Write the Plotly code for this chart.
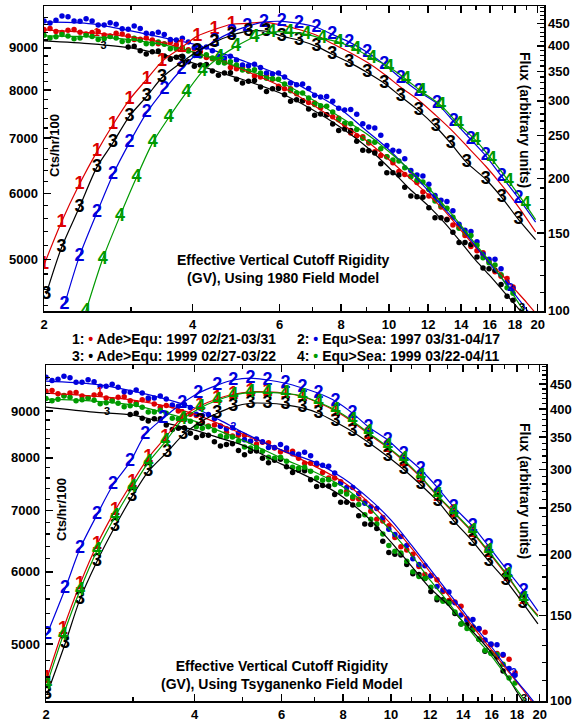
import math
import plotly.graph_objects as go

FONT = "Liberation Sans, Arial, Helvetica, sans-serif"
RED, BLUE, BLACK, GREEN = "#dd0000", "#0000dd", "#000000", "#009a00"

# ---------------- axes / ticks ----------------
X_TICKS = [2, 4, 6, 8, 10, 12, 14, 16, 18, 20]
X_MINOR = [3, 5, 7, 9, 11, 13, 15, 17, 19]
CTS_TICKS = [5000, 6000, 7000, 8000, 9000]
FLUX_TICKS = [100, 150, 200, 250, 300, 350, 400, 450]

# ---------------- count-rate data points (Cts/hr/100) ----------------
X_DOTS = [2.000, 2.115, 2.237, 2.366, 2.503, 2.648, 2.800, 2.962, 3.133, 3.314,
          3.505, 3.707, 3.921, 4.147, 4.387, 4.640, 4.908, 5.191, 5.490, 5.807,
          6.142, 6.497, 6.872, 7.268, 7.688, 8.131, 8.601, 9.097, 9.622, 10.18,
          10.76, 11.39, 12.04, 12.74, 13.47, 14.25, 15.07, 15.94, 16.86, 17.83]
X_DOTS_B = [2.057, 2.175, 2.301, 2.434, 2.575, 2.723, 2.880, 3.046, 3.222, 3.408,
            3.605, 3.813, 4.032, 4.265, 4.512, 4.772, 5.048, 5.338, 5.646, 5.972,
            6.317, 6.682, 7.067, 7.475, 7.906, 8.363, 8.846, 9.356, 9.897, 10.47,
            11.07, 11.71, 12.39, 13.10, 13.86, 14.65, 15.50, 16.39, 17.34]

TOP_DOTS_1 = [9470, 9420, 9450, 9400, 9390, 9330, 9370, 9300, 9220, 9200,
              9100, 9080, 8950, 8900, 8730, 8660, 8490, 8440, 8300, 8250,
              8030, 7920, 7730, 7620, 7430, 7270, 7050, 6910, 6670, 6540,
              6330, 6190, 5960, 5780, 5500, 5340, 5120, 4970, 4770, 4630]
TOP_DOTS_1B = [9500, 9390, 9470, 9350, 9420, 9300, 9350, 9210, 9250, 9100,
               9140, 8960, 8980, 8760, 8740, 8520, 8520, 8320, 8330, 8090,
               8030, 7770, 7720, 7470, 7400, 7100, 7030, 6740, 6650, 6380,
               6300, 6030, 5920, 5590, 5470, 5180, 5090, 4830, 4740]
TOP_DOTS_2 = [9700, 9720, 9810, 9690, 9700, 9590, 9610, 9480, 9500, 9360,
              9340, 9200, 9150, 9000, 8930, 8750, 8700, 8560, 8520, 8370,
              8300, 8120, 8040, 7850, 7760, 7570, 7480, 7220, 7060, 6770,
              6610, 6320, 6160, 5890, 5720, 5420, 5250, 5000, 4870, 4610]
TOP_DOTS_2B = [9640, 9830, 9700, 9760, 9590, 9650, 9490, 9560, 9370, 9400,
               9210, 9240, 9010, 9020, 8790, 8790, 8580, 8600, 8390, 8390,
               8160, 8140, 7890, 7860, 7610, 7580, 7290, 7200, 6860, 6750,
               6400, 6300, 5970, 5870, 5510, 5400, 5070, 5000, 4690]
TOP_DOTS_3 = [9020, 8930, 8900, 8800, 8770, 8660, 8580, 8440, 8390, 8250,
              8200, 8070, 8030, 7900, 7790, 7590, 7490, 7280, 7180, 6940,
              6760, 6520, 6360, 6110, 5950, 5770, 5610, 5390, 5240, 5030,
              4870, 4660, 4460]
TOP_DOTS_3B = [9040, 8850, 8920, 8720, 8790, 8550, 8590, 8340, 8400, 8160,
               8220, 7970, 8040, 7760, 7770, 7460, 7470, 7150, 7150, 6770,
               6720, 6360, 6320, 5960, 5940, 5610, 5580, 5240, 5210, 4880,
               4850, 4510]
TOP_DOTS_4 = [9320, 9280, 9300, 9250, 9290, 9230, 9250, 9180, 9190, 9100,
              9090, 8980, 8920, 8800, 8750, 8630, 8580, 8440, 8390, 8260,
              8140, 7940, 7830, 7660, 7530, 7300, 7170, 6930, 6800, 6590,
              6450, 6230, 6070, 5800, 5620, 5380, 5200, 4950, 4790, 4550]
TOP_DOTS_4B = [9250, 9340, 9230, 9330, 9210, 9290, 9160, 9240, 9100, 9150,
               8980, 9000, 8810, 8830, 8640, 8660, 8460, 8470, 8270, 8250,
               7990, 7940, 7690, 7650, 7370, 7290, 7000, 6920, 6650, 6570,
               6290, 6200, 5880, 5760, 5450, 5340, 5020, 4920, 4620]

BOT_DOTS_1 = [9460, 9400, 9420, 9350, 9370, 9300, 9320, 9240, 9260, 9160,
              9130, 9000, 8930, 8750, 8690, 8530, 8470, 8340, 8320, 8200,
              8150, 7990, 7890, 7710, 7600, 7350, 7210, 6990, 6820, 6540,
              6340, 6080, 5940, 5710, 5560, 5330, 5190, 4990, 4860, 4650]
BOT_DOTS_1B = [9480, 9360, 9430, 9310, 9390, 9260, 9330, 9190, 9260, 9090,
               9120, 8910, 8900, 8670, 8670, 8450, 8460, 8280, 8310, 8120,
               8130, 7890, 7860, 7600, 7530, 7220, 7160, 6850, 6740, 6390,
               6270, 5960, 5880, 5580, 5500, 5210, 5150, 4880, 4810]
BOT_DOTS_2 = [9800, 9750, 9790, 9680, 9690, 9580, 9560, 9440, 9420, 9300,
              9280, 9110, 9080, 8900, 8830, 8610, 8520, 8340, 8330, 8210,
              8200, 8070, 8040, 7850, 7700, 7420, 7310, 7070, 6880, 6590,
              6410, 6110, 5940, 5730, 5550, 5310, 5200, 5000, 4870, 4620]
BOT_DOTS_2B = [9720, 9830, 9680, 9740, 9580, 9630, 9450, 9490, 9300, 9350,
               9140, 9150, 8930, 8920, 8660, 8630, 8370, 8390, 8210, 8270,
               8080, 8110, 7890, 7830, 7500, 7420, 7130, 7040, 6680, 6560,
               6200, 6090, 5780, 5700, 5380, 5320, 5050, 4990, 4700]
BOT_DOTS_3 = [8920, 8840, 8830, 8690, 8620, 8510, 8460, 8330, 8270, 8150,
              8130, 7990, 7950, 7820, 7750, 7570, 7460, 7290, 7150, 6910,
              6760, 6480, 6270, 6110, 5960, 5710, 5590, 5400, 5250, 5060,
              4890, 4670]
BOT_DOTS_3B = [8950, 8780, 8830, 8590, 8630, 8420, 8470, 8240, 8290, 8060,
               8140, 7900, 7970, 7710, 7740, 7440, 7450, 7150, 7100, 6770,
               6690, 6300, 6260, 5970, 5900, 5590, 5560, 5260, 5220, 4910,
               4840]
BOT_DOTS_4 = [9290, 9270, 9320, 9260, 9250, 9190, 9180, 9120, 9090, 8980,
              8950, 8820, 8770, 8620, 8570, 8430, 8340, 8200, 8130, 7990,
              7930, 7790, 7730, 7560, 7480, 7300, 7110, 6850, 6600, 6320,
              6160, 5930, 5770, 5570, 5420, 5200, 5060, 4880, 4750, 4530]
BOT_DOTS_4B = [9240, 9350, 9240, 9300, 9170, 9230, 9100, 9150, 8980, 9020,
               8840, 8850, 8650, 8650, 8450, 8430, 8220, 8210, 8010, 8010,
               7810, 7810, 7600, 7570, 7340, 7250, 6930, 6770, 6410, 6290,
               6000, 5900, 5620, 5540, 5260, 5180, 4920, 4870, 4590]

# ---------------- count-rate fitted curves ----------------
X_FIT = [2, 2.5, 3, 3.5, 4, 4.5, 5, 6, 7, 8, 9, 10, 11, 12, 13, 14, 15, 16, 17, 18, 19, 20]
TOP_FIT_1 = [9461, 9383, 9279, 9126, 8901, 8705, 8490, 8098, 7682, 7287, 6952, 6594, 6272, 5983, 5707, 5414, 5164, 4953, 4777, 4595, 4433, 4275]
TOP_FIT_2 = [9674, 9621, 9436, 9254, 9101, 8901, 8705, 8349, 7942, 7576, 7147, 6780, 6396, 6050, 5739, 5459, 5179, 4939, 4725, 4532, 4347, 4182]
TOP_FIT_3 = [9177, 9101, 9000, 8827, 8633, 8420, 8258, 7942, 7576, 7206, 6836, 6449, 6083, 5803, 5520, 5236, 4980, 4777, 4583, 4408, 4240, 4078]
TOP_FIT_4 = [9305, 9279, 9203, 9075, 8901, 8705, 8514, 8189, 7790, 7410, 7088, 6742, 6413, 6100, 5787, 5489, 5207, 4967, 4725, 4495, 4275, 4078]
BOT_FIT_1 = [9418, 9347, 9254, 9114, 8932, 8709, 8493, 8156, 7833, 7523, 7153, 6765, 6368, 5993, 5670, 5390, 5138, 4922, 4715, 4540, 4371, 4209]
BOT_FIT_2 = [9709, 9635, 9466, 9277, 9069, 8797, 8534, 8156, 7913, 7599, 7226, 6834, 6417, 6039, 5713, 5432, 5177, 4959, 4740, 4551, 4393, 4241]
BOT_FIT_3 = [9091, 8977, 8910, 8732, 8578, 8407, 8259, 7872, 7561, 7243, 6869, 6466, 6085, 5756, 5528, 5283, 5086, 4884, 4656, 4427, 4230, 4042]
BOT_FIT_4 = [9277, 9230, 9138, 8954, 8775, 8557, 8364, 7993, 7716, 7429, 7063, 6648, 6257, 5873, 5570, 5283, 5047, 4847, 4633, 4450, 4273, 4103]

# small curve tags on the count-rate fits
TOP_TAG_X = [2.56, 2.64, 17.6, 18.6]
TOP_TAG_V = [9380, 9040, 4610, 4360]
TOP_TAG_T = ["1", "3", "2", "3"]
TOP_TAG_C = [RED, BLACK, BLUE, BLACK]
BOT_TAG_X = [2.57, 2.66, 4.79, 17.7, 18.6]
BOT_TAG_V = [9440, 8977, 8644, 4644, 4350]
BOT_TAG_T = ["1", "3", "2", "2", "3"]
BOT_TAG_C = [RED, BLACK, BLUE, BLUE, BLACK]

# ---------------- flux curves (arbitrary units) ----------------
TOP_FLUX_X_1 = [2.00, 2.17, 2.36, 2.56, 2.76, 2.98, 3.23, 3.47, 3.80, 4.09, 4.43, 4.80, 5.16, 5.58, 6.06,
                6.57, 7.13, 7.67, 8.31, 9.03, 9.78, 10.56, 11.48, 12.44, 13.40, 14.51, 15.70, 16.91, 18.30, 19.81]
TOP_FLUX_1 = [127, 159, 194, 230, 265, 302, 336, 369, 397, 421, 436, 448, 450, 453, 446,
              436, 423, 405, 387, 367, 345, 322, 301, 278, 257, 234, 213, 193, 172, 151]
TOP_FLUX_X_2 = [2.20, 2.36, 2.56, 2.76, 2.98, 3.23, 3.51, 3.80, 4.09, 4.43, 4.80, 5.16, 5.58, 6.06, 6.57,
                7.13, 7.67, 8.31, 9.03, 9.78, 10.56, 11.48, 12.50, 13.53, 14.64, 15.70, 16.91, 18.30, 19.81]
TOP_FLUX_2 = [103, 133, 167, 204, 241, 282, 319, 354, 385, 410, 430, 443, 453, 455, 450,
              441, 425, 408, 387, 363, 338, 315, 296, 269, 245, 225, 202, 180, 159]
TOP_FLUX_X_3 = [2.02, 2.17, 2.36, 2.56, 2.76, 2.98, 3.23, 3.47, 3.80, 4.09, 4.43, 4.80, 5.19, 5.64, 6.06,
                6.57, 7.13, 7.67, 8.31, 9.03, 9.78, 10.56, 11.48, 12.44, 13.34, 14.37, 15.70, 16.91, 18.30, 19.81]
TOP_FLUX_3 = [109, 139, 172, 212, 241, 277, 307, 339, 367, 389, 408, 423, 432, 432, 421,
              412, 399, 383, 367, 348, 329, 307, 285, 262, 240, 217, 199, 181, 161, 145]
TOP_FLUX_X_4 = [2.43, 2.63, 2.85, 3.08, 3.32, 3.58, 3.89, 4.19, 4.53, 4.90, 5.34, 5.78, 6.27, 6.80,
                7.32, 7.91, 8.57, 9.24, 10.0, 10.82, 11.63, 12.74, 13.85, 14.99, 16.14, 17.47, 18.91, 19.81]
TOP_FLUX_4 = [99.5, 131, 164, 201, 241, 275, 314, 350, 377, 399, 419, 430, 430, 425,
              416, 408, 393, 375, 358, 336, 315, 293, 265, 244, 221, 197, 174, 161]

BOT_FLUX_X_2 = [2.009, 2.186, 2.344, 2.538, 2.735, 2.961, 3.176, 3.455, 3.776, 4.069, 4.447, 4.792, 5.189, 5.617, 6.110,
                6.616, 7.128, 7.719, 8.357, 9.006, 9.842, 10.61, 11.48, 12.43, 13.40, 14.64, 15.78, 17.24, 18.58, 19.84]
BOT_FLUX_2 = [137, 170, 206, 242, 279, 311, 354, 383, 411, 431, 448, 459, 463, 459, 452,
              442, 431, 415, 392, 367, 345, 322, 300, 275, 251, 229, 208, 185, 168, 153]
BOT_FLUX_X_4 = [2.009, 2.165, 2.344, 2.538, 2.761, 2.989, 3.221, 3.488, 3.776, 4.107, 4.447, 4.792, 5.189, 5.617, 6.110,
                6.616, 7.128, 7.719, 8.357, 9.006, 9.842, 10.61, 11.48, 12.43, 13.40, 14.64, 15.78, 17.24, 18.58, 19.84]
BOT_FLUX_4 = [108, 136, 169, 204, 240, 275, 310, 342, 380, 402, 417, 427, 433, 433, 431,
              425, 413, 398, 378, 357, 334, 314, 290, 265, 245, 223, 203, 181, 162, 149]
BOT_FLUX_1 = [111, 140, 174, 210, 247, 282, 317, 349, 385, 406, 420, 429, 434, 434, 431,
              424, 412, 396, 376, 355, 333, 312, 289, 264, 244, 222, 202, 180, 162, 150]
BOT_FLUX_X_3 = [2.009, 2.186, 2.344, 2.538, 2.761, 2.989, 3.221, 3.520, 3.794, 4.107, 4.447, 4.792, 5.189, 5.617, 6.110,
                6.616, 7.128, 7.719, 8.357, 9.006, 9.842, 10.61, 11.48, 12.43, 13.40, 14.64, 15.78, 17.08, 18.49, 19.84]
BOT_FLUX_3 = [103, 131, 162, 194, 229, 264, 297, 326, 354, 376, 392, 404, 411, 411, 408,
              402, 392, 376, 359, 341, 319, 300, 279, 258, 235, 213, 194, 177, 159, 144]

LEGEND = [
    ("1", RED, "Ade>Equ: 1997 02/21-03/31"),
    ("2", BLUE, "Equ>Sea: 1997 03/31-04/17"),
    ("3", BLACK, "Ade>Equ: 1999 02/27-03/22"),
    ("4", GREEN, "Equ>Sea: 1999 03/22-04/11"),
]

# ---------------- figure ----------------
W, H = 573, 719
ML, MR, MT, MB = 44, 27, 6, 18
PW, PH = W - ML - MR, H - MT - MB


def px(xp):
    return (xp - ML) / PW


def py(yp):
    return (H - MB - yp) / PH


fig = go.Figure()


def dots(x, y, color, xa, ya):
    fig.add_trace(go.Scatter(x=x, y=y, mode="markers", xaxis=xa, yaxis=ya,
                             marker=dict(color=color, size=5.5, line=dict(width=0)),
                             hoverinfo="skip"))


def fit(x, y, color, xa, ya):
    fig.add_trace(go.Scatter(x=x, y=y, mode="lines", xaxis=xa, yaxis=ya,
                             line=dict(color=color, width=1.2, shape="spline", smoothing=0.8),
                             hoverinfo="skip"))


def flux(x, y, label, nlab, color, xa, ya):
    text = [label] * nlab + [""] * (len(x) - nlab)
    fig.add_trace(go.Scatter(x=x, y=y, mode="lines+text", xaxis=xa, yaxis=ya, text=text,
                             textposition="middle center",
                             textfont=dict(color=color, size=18, family=FONT, weight="bold"),
                             line=dict(color=color, width=1.2, shape="spline", smoothing=0.8),
                             hoverinfo="skip"))


def tags(x, y, t, c, xa, ya):
    fig.add_trace(go.Scatter(x=x, y=y, mode="text", text=t, xaxis=xa, yaxis=ya,
                             textposition="middle center",
                             textfont=dict(color=c, size=11, family=FONT, weight="bold"),
                             hoverinfo="skip"))


panels = [
    ("x", "y", [(TOP_DOTS_1, TOP_DOTS_1B), (TOP_DOTS_2, TOP_DOTS_2B), (TOP_DOTS_3, TOP_DOTS_3B),
                (TOP_DOTS_4, TOP_DOTS_4B)],
     [TOP_FIT_1, TOP_FIT_2, TOP_FIT_3, TOP_FIT_4], (TOP_TAG_X, TOP_TAG_V, TOP_TAG_T, TOP_TAG_C)),
    ("x2", "y3", [(BOT_DOTS_1, BOT_DOTS_1B), (BOT_DOTS_2, BOT_DOTS_2B), (BOT_DOTS_3, BOT_DOTS_3B),
                  (BOT_DOTS_4, BOT_DOTS_4B)],
     [BOT_FIT_1, BOT_FIT_2, BOT_FIT_3, BOT_FIT_4], (BOT_TAG_X, BOT_TAG_V, BOT_TAG_T, BOT_TAG_C)),
]
colors = [RED, BLUE, BLACK, GREEN]
for xa, ya, dsets, fsets, tg in panels:
    for i, (da, db) in enumerate(dsets):
        start = 7 if i == 2 else 0
        dots(X_DOTS[start:start + len(da)] + X_DOTS_B[start:start + len(db)], da + db,
             colors[i], xa, ya)
    for i, f in enumerate(fsets):
        fit(X_FIT, f, colors[i], xa, ya)
    tags(*tg, xa, ya)

# flux curves: top panel
flux(TOP_FLUX_X_1, TOP_FLUX_1, "1", 12, RED, "x", "y2")
flux(TOP_FLUX_X_2, TOP_FLUX_2, "2", len(TOP_FLUX_X_2) - 1, BLUE, "x", "y2")
flux(TOP_FLUX_X_3, TOP_FLUX_3, "3", len(TOP_FLUX_X_3) - 1, BLACK, "x", "y2")
flux(TOP_FLUX_X_4, TOP_FLUX_4, "4", len(TOP_FLUX_X_4) - 1, GREEN, "x", "y2")
# flux curves: bottom panel
flux(BOT_FLUX_X_4, BOT_FLUX_1, "1", len(BOT_FLUX_X_4) - 1, RED, "x2", "y4")
flux(BOT_FLUX_X_2, BOT_FLUX_2, "2", len(BOT_FLUX_X_2) - 1, BLUE, "x2", "y4")
flux(BOT_FLUX_X_3, BOT_FLUX_3, "3", len(BOT_FLUX_X_3) - 1, BLACK, "x2", "y4")
flux(BOT_FLUX_X_4, BOT_FLUX_4, "4", len(BOT_FLUX_X_4) - 1, GREEN, "x2", "y4")

TICKFONT = dict(family=FONT, size=13, color="black", weight="bold")
CTS_MINOR = [v for v in range(4400, 10001, 200) if v % 1000]
FLUX_MINOR = [v for v in range(110, 491, 10) if v % 50]


def xaxis(domain, anchor):
    return dict(type="log", range=[math.log10(2), math.log10(20.6)], domain=domain, anchor=anchor,
                tickmode="array", tickvals=X_TICKS, ticktext=[str(v) for v in X_TICKS],
                ticks="inside", ticklen=7, tickwidth=1.5, tickcolor="black",
                minor=dict(tickmode="array", tickvals=X_MINOR, ticks="inside", ticklen=4,
                           tickwidth=1.2, tickcolor="black", showgrid=False),
                showline=True, linecolor="black", linewidth=1.5, mirror="ticks",
                showgrid=False, zeroline=False, tickfont=TICKFONT, automargin=False,
                ticklabelstandoff=1)


def cts_axis(domain, anchor):
    return dict(type="log", range=[math.log10(4330), math.log10(10110)], domain=domain, anchor=anchor,
                tickmode="array", tickvals=CTS_TICKS, ticktext=[str(v) for v in CTS_TICKS],
                ticks="inside", ticklen=7, tickwidth=1.5, tickcolor="black",
                minor=dict(tickmode="array", tickvals=CTS_MINOR, ticks="inside", ticklen=4,
                           tickwidth=1.2, tickcolor="black", showgrid=False),
                showline=True, linecolor="black", linewidth=1.5, mirror=False,
                showgrid=False, zeroline=False, tickfont=TICKFONT, automargin=False,
                ticklabelstandoff=2)


def flux_axis(overlay, anchor):
    return dict(type="log", range=[math.log10(99.8), math.log10(493)], overlaying=overlay,
                anchor=anchor, side="right",
                tickmode="array", tickvals=FLUX_TICKS, ticktext=[str(v) for v in FLUX_TICKS],
                ticks="inside", ticklen=7, tickwidth=1.5, tickcolor="black",
                minor=dict(tickmode="array", tickvals=FLUX_MINOR, ticks="inside", ticklen=4,
                           tickwidth=1.2, tickcolor="black", showgrid=False),
                showline=True, linecolor="black", linewidth=1.5, mirror=False,
                showgrid=False, zeroline=False, tickfont=TICKFONT, automargin=False,
                ticklabelstandoff=0)


top_dom = [py(311), 1.0]
bot_dom = [0.0, py(365)]

ANN = dict(family=FONT, size=14, color="black", weight="bold")
annotations = []
legend_pos = [(70, 339), (295, 339), (70, 356.5), (295, 356.5)]
for (num, col, label), (xp, yp) in zip(LEGEND, legend_pos):
    annotations.append(dict(xref="paper", yref="paper", x=px(xp), y=py(yp), xanchor="left",
                            yanchor="middle", showarrow=False, font=ANN,
                            text=f"{num}: <span style='color:{col}'>\u2022</span> {label}"))
for yp, model, xp in [(268.5, "1980", 283), (675, "Tsyganenko", 282)]:
    annotations.append(dict(xref="paper", yref="paper", x=px(xp), y=py(yp), xanchor="center",
                            yanchor="middle", showarrow=False, font=ANN, align="center",
                            text=f"Effective Vertical Cutoff Rigidity<br>(GV), Using {model} Field Model"))
for xp, yp in [(55, 146), (61, 510)]:
    annotations.append(dict(xref="paper", yref="paper", x=px(xp), y=py(yp), xanchor="center",
                            yanchor="middle", showarrow=False, textangle=-90,
                            font=dict(family=FONT, size=13, color="black", weight="bold"),
                            text="Cts/hr/100"))
for xp, yp in [(525, 120), (525, 491)]:
    annotations.append(dict(xref="paper", yref="paper", x=px(xp), y=py(yp), xanchor="center",
                            yanchor="middle", showarrow=False, textangle=90, font=ANN,
                            text="Flux (arbitrary units)"))

fig.update_layout(
    template="none",
    width=W, height=H,
    margin=dict(l=ML, r=MR, t=MT, b=MB, pad=0),
    paper_bgcolor="white", plot_bgcolor="white",
    showlegend=False, hovermode=False,
    font=dict(family=FONT, size=13, color="black"),
    xaxis=xaxis([0.0, 500 / PW], "y"),
    yaxis=cts_axis(top_dom, "x"),
    yaxis2=flux_axis("y", "x"),
    xaxis2=xaxis([2 / PW, 1.0], "y3"),
    yaxis3=cts_axis(bot_dom, "x2"),
    yaxis4=flux_axis("y3", "x2"),
    annotations=annotations,
)

fig.write_html("out.html",
               config={"displayModeBar": False, "staticPlot": True},
               post_script="document.body.style.margin='0';document.body.style.padding='0';")
